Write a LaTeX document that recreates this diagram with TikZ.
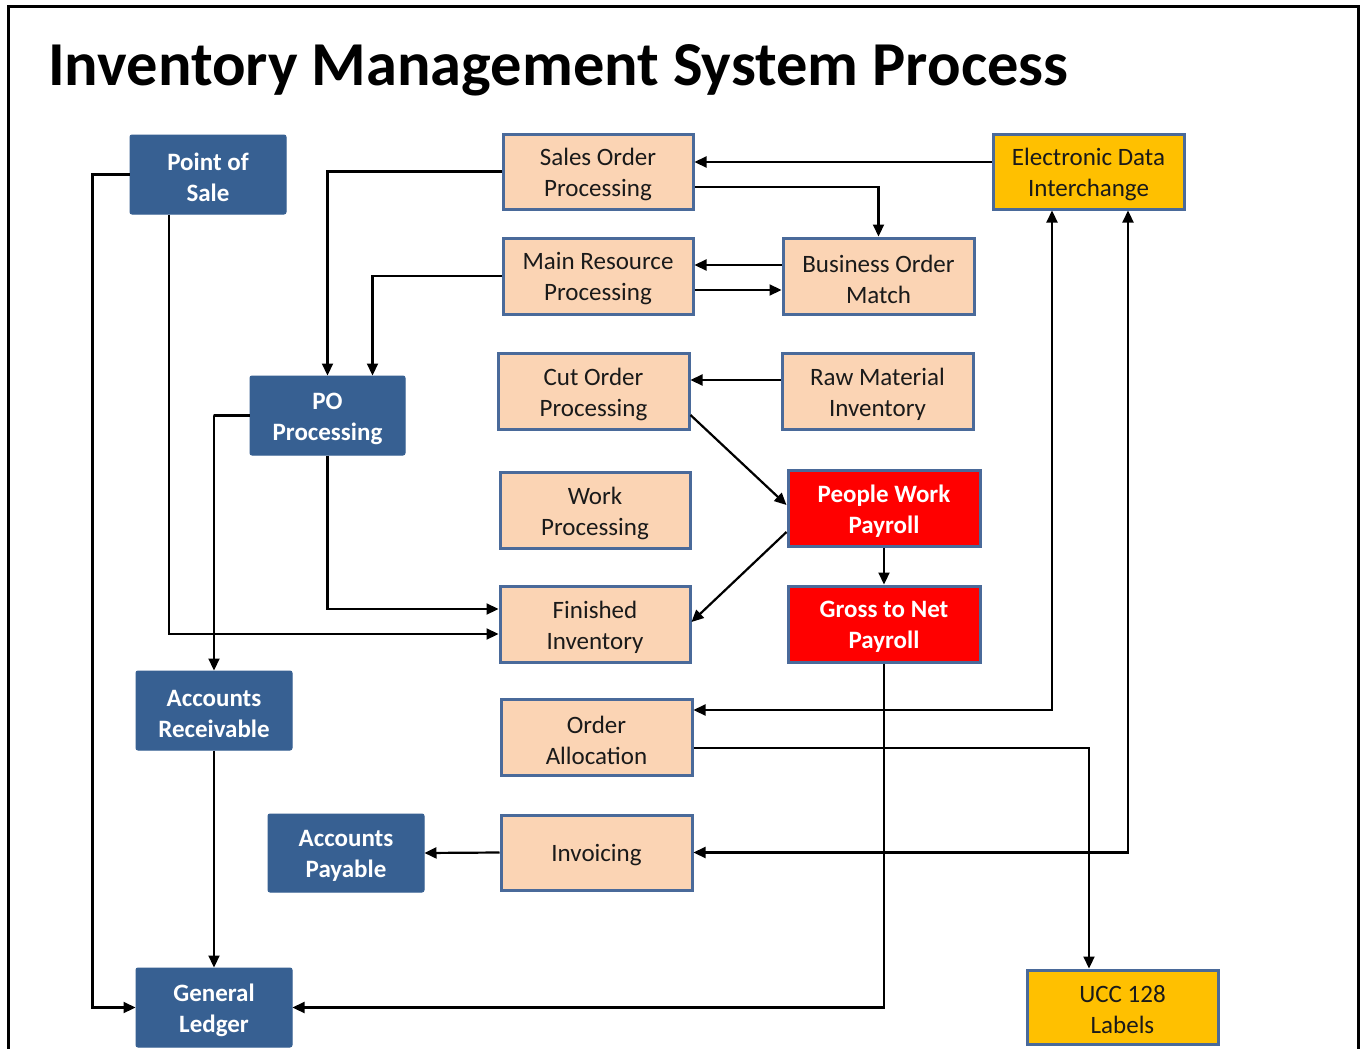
\documentclass[tikz,border=0pt]{standalone}
\usepackage{fontspec}
\setmainfont{Carlito}
\usetikzlibrary{arrows.meta}

\definecolor{boxblue}{HTML}{376092}
\definecolor{peach}{HTML}{FBD4B4}
\definecolor{edgeblue}{HTML}{4A6A9A}
\definecolor{gold}{HTML}{FFC000}
\definecolor{alertred}{HTML}{FF0000}
\definecolor{ink}{HTML}{1A1A1A}

\tikzset{
  base/.style={rectangle, inner sep=0pt},
  bluebox/.style={base, fill=boxblue, draw=boxblue, line width=1pt,
    rounded corners=2pt},
  peachbox/.style={base, fill=peach, draw=edgeblue, line width=3pt},
  goldbox/.style={base, fill=gold, draw=edgeblue, line width=3pt},
  redbox/.style={base, fill=alertred, draw=edgeblue, line width=3pt},
  arr/.style={draw=black, line width=2.2pt,
    -{Triangle[length=12pt,width=11pt]}},
  biarr/.style={draw=black, line width=2.2pt,
    {Triangle[length=12pt,width=11pt]}-{Triangle[length=12pt,width=11pt]}},
  % box captions, set a little below the box centre
  dark/.style={label={[align=center, inner sep=0pt, yshift=-3pt, text=ink,
    font=\fontsize{25}{31}\selectfont]center:{#1}}},
  light/.style={label={[align=center, inner sep=0pt, yshift=-3pt, text=white,
    font=\fontsize{25}{31}\selectfont\bfseries]center:{#1}}},
}

\begin{document}
\begin{tikzpicture}[x=1pt,y=-1pt]
  \useasboundingbox (0,0) rectangle (1361,1049);
  \fill[white] (0,0) rectangle (1361,1049);
  % frame, open at the bottom
  \draw[line width=3pt] (8,1060) -- (8,7) -- (1358,7) -- (1358,1060);

  \node[anchor=base west, inner sep=0pt,
        font=\fontsize{62.5}{64}\selectfont\bfseries] (title) at (48,85)
        {Inventory Management System Process};

  % blue boxes
  \node[bluebox, minimum width=156, minimum height=79, light={Point of\\Sale}] (pos) at (208,174.5) {};
  \node[bluebox, minimum width=155, minimum height=79, light={PO\\Processing}] (po)  at (327.5,415.5) {};
  \node[bluebox, minimum width=156, minimum height=79, light={Accounts\\Receivable}] (ar)  at (214,710.5) {};
  \node[bluebox, minimum width=156, minimum height=78, light={Accounts\\Payable}] (ap)  at (346,853) {};
  \node[bluebox, minimum width=156, minimum height=79, light={General\\Ledger}] (gl)  at (214,1007.5) {};

  % peach boxes
  \node[peachbox, minimum width=190, minimum height=75, dark={Sales Order\\Processing}] (sop) at (598,171.5) {};
  \node[peachbox, minimum width=190, minimum height=76, dark={Main Resource\\Processing}] (mrp) at (598,276) {};
  \node[peachbox, minimum width=191, minimum height=76, dark={Business Order\\Match}] (bom) at (878.5,276) {};
  \node[peachbox, minimum width=191, minimum height=76, dark={Cut Order\\Processing}] (cop) at (593.5,391) {};
  \node[peachbox, minimum width=191, minimum height=76, dark={Raw Material\\Inventory}] (rmi) at (877.5,391) {};
  \node[peachbox, minimum width=190, minimum height=76, dark={Work\\Processing}] (wp)  at (595,510) {};
  \node[peachbox, minimum width=190, minimum height=76, dark={Finished\\Inventory}] (fi)  at (595,624) {};
  \node[peachbox, minimum width=191, minimum height=76, dark={Order\\Allocation}] (oa)  at (596.5,737) {};
  \node[peachbox, minimum width=191, minimum height=75, dark={Invoicing}] (inv) at (596.5,852.5) {};

  % gold boxes
  \node[goldbox, minimum width=191, minimum height=75, dark={Electronic Data\\Interchange}] (edi) at (1088.5,171.5) {};
  \node[goldbox, minimum width=191, minimum height=74, dark={UCC 128\\Labels}] (ucc) at (1122.5,1007) {};

  % red boxes
  \node[redbox, minimum width=192, minimum height=76, light={People Work\\Payroll}] (pwp) at (884,508) {};
  \node[redbox, minimum width=192, minimum height=76, light={Gross to Net\\Payroll}] (gnp) at (884,624) {};

  % connectors
  \draw[arr] (pos.west) -- ++(-37,0) |- (gl.west);
  \draw[arr] ([xshift=-39]pos.south) |- ([yshift=-10]fi.west);
  \draw[arr] (sop.west) -| (po.north);
  \draw[arr] (mrp.west) -| ([xshift=45]po.north);
  \draw[arr] (po.west) -- ++(-36,0) -| (ar.north);
  \draw[arr] (po.south) |- ([yshift=15]fi.west);
  \draw[arr] (ar.south) -- (gl.north);
  \draw[arr] ([yshift=9.5]edi.west) -- ([yshift=9.5]sop.east);
  \draw[arr] ([yshift=-15.5]sop.east) -| (bom.north);
  \draw[arr] ([yshift=11]bom.west) -- ([yshift=11]mrp.east);
  \draw[arr] ([yshift=-14]mrp.east) -- ([yshift=-14]bom.west);
  \draw[arr] ([yshift=11]rmi.west) -- ([yshift=11]cop.east);
  \draw[arr] ([yshift=-24]cop.east) -- ([yshift=3]pwp.west);
  \draw[arr] ([yshift=-24]pwp.west) -- ([yshift=2]fi.east);
  \draw[arr] (pwp.south) -- (gnp.north);
  \draw[arr] (gnp.south) |- (gl.east);
  \draw[biarr] ([yshift=27]oa.east) -| ([xshift=-36.5]edi.south);
  \draw[biarr] (inv.east) -| ([xshift=39.5]edi.south);
  \draw[arr] ([yshift=-11]oa.east) -| ([xshift=-33.5]ucc.north);
  \draw[arr] (inv.west) -- (ap.east);
\end{tikzpicture}
\end{document}
